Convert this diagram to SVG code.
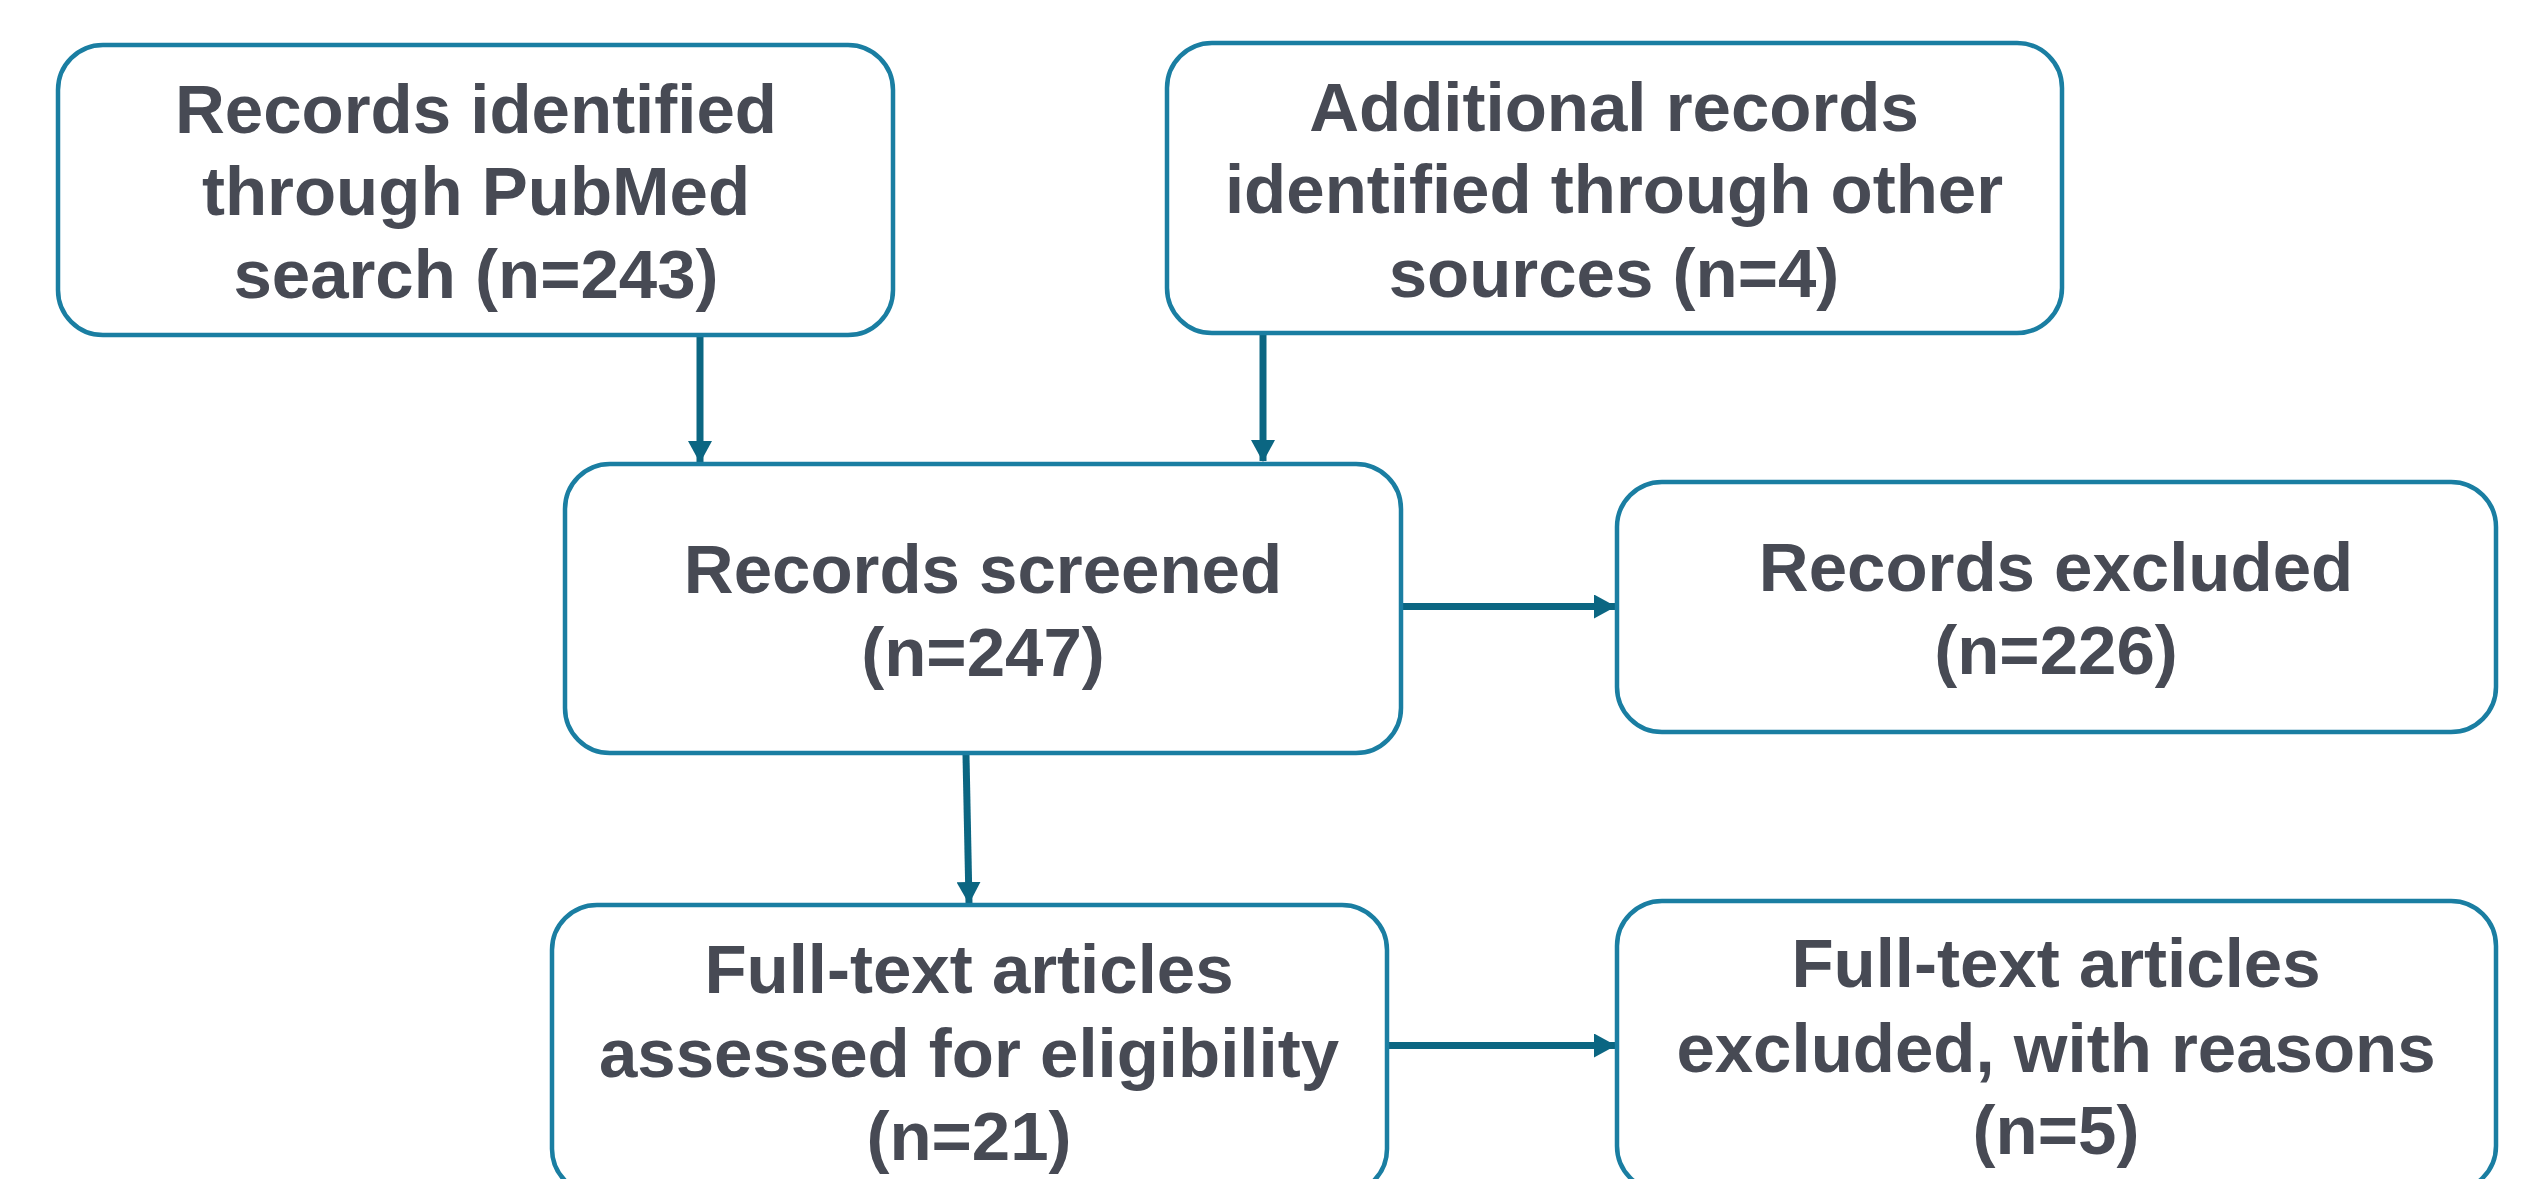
<svg xmlns="http://www.w3.org/2000/svg" width="2531" height="1179" viewBox="0 0 2531 1179">
<style>
.box{fill:#ffffff;stroke:#1a7ea2;stroke-width:4.5}
.t{font-family:"Liberation Sans",Arial,sans-serif;font-weight:bold;font-size:69px;fill:#474a54;text-anchor:middle}
.c{stroke:#0b6682;stroke-width:7;fill:none}
</style>
<defs>
<marker id="ah" markerUnits="userSpaceOnUse" markerWidth="22" markerHeight="24" refX="21" refY="12" orient="auto">
<path d="M0,0 L22,12 L0,24 Z" fill="#0b6682"/>
</marker>
</defs>
<rect width="2531" height="1179" fill="#ffffff"/>
<g id="connectors">
<line class="c" x1="700" y1="336" x2="700" y2="462" marker-end="url(#ah)"/>
<line class="c" x1="1263" y1="334" x2="1263" y2="461" marker-end="url(#ah)"/>
<line class="c" x1="1402" y1="606.5" x2="1615" y2="606.5" marker-end="url(#ah)"/>
<line class="c" x1="966" y1="755" x2="969" y2="903" marker-end="url(#ah)"/>
<line class="c" x1="1387" y1="1045.5" x2="1615" y2="1045.5" marker-end="url(#ah)"/>
</g>
<g id="n1">
<rect class="box" x="58" y="45" width="835" height="290" rx="45" ry="45"/>
<text class="t" x="476" y="133">Records identified</text>
<text class="t" x="476" y="215">through PubMed</text>
<text class="t" x="476" y="298">search (n=243)</text>
</g>
<g id="n2">
<rect class="box" x="1167" y="43" width="895" height="290" rx="45" ry="45"/>
<text class="t" x="1614" y="131">Additional records</text>
<text class="t" x="1614" y="213">identified through other</text>
<text class="t" x="1614" y="297">sources (n=4)</text>
</g>
<g id="n3">
<rect class="box" x="565" y="464" width="836" height="289" rx="45" ry="45"/>
<text class="t" x="983" y="593">Records screened</text>
<text class="t" x="983" y="676">(n=247)</text>
</g>
<g id="n4">
<rect class="box" x="1617" y="482" width="879" height="250" rx="45" ry="45"/>
<text class="t" x="2056" y="591">Records excluded</text>
<text class="t" x="2056" y="674">(n=226)</text>
</g>
<g id="n5">
<rect class="box" x="552" y="905" width="835" height="289" rx="45" ry="45"/>
<text class="t" x="969" y="993">Full-text articles</text>
<text class="t" x="969" y="1077">assessed for eligibility</text>
<text class="t" x="969" y="1160">(n=21)</text>
</g>
<g id="n6">
<rect class="box" x="1617" y="901" width="879" height="290" rx="45" ry="45"/>
<text class="t" x="2056" y="987">Full-text articles</text>
<text class="t" x="2056" y="1072">excluded, with reasons</text>
<text class="t" x="2056" y="1154">(n=5)</text>
</g>
</svg>
